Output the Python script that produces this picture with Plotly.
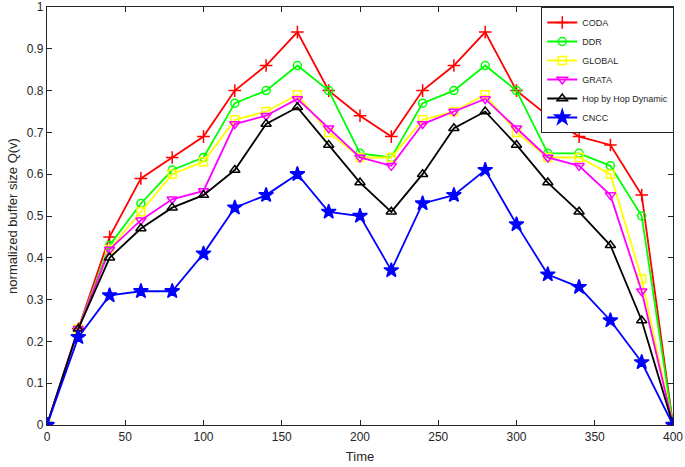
import plotly.graph_objects as go

time = [0, 20, 40, 60, 80, 100, 120, 140, 160, 180, 200, 220, 240, 260, 280, 300, 320, 340, 360, 380, 400]

coda   = [0, 0.23, 0.45, 0.59, 0.64, 0.69, 0.80, 0.86, 0.94, 0.80, 0.74, 0.69, 0.80, 0.86, 0.94, 0.80, 0.74, 0.69, 0.67, 0.55, 0]
ddr    = [0, 0.23, 0.43, 0.53, 0.61, 0.64, 0.77, 0.80, 0.86, 0.80, 0.65, 0.64, 0.77, 0.80, 0.86, 0.80, 0.65, 0.65, 0.62, 0.50, 0]
global_ = [0, 0.23, 0.42, 0.51, 0.60, 0.63, 0.73, 0.75, 0.79, 0.70, 0.64, 0.64, 0.73, 0.75, 0.79, 0.70, 0.64, 0.64, 0.60, 0.35, 0]
grata  = [0, 0.23, 0.42, 0.49, 0.54, 0.56, 0.72, 0.74, 0.78, 0.71, 0.64, 0.62, 0.72, 0.75, 0.78, 0.71, 0.64, 0.62, 0.55, 0.32, 0]
hop    = [0, 0.23, 0.40, 0.47, 0.52, 0.55, 0.61, 0.72, 0.76, 0.67, 0.58, 0.51, 0.60, 0.71, 0.75, 0.67, 0.58, 0.51, 0.43, 0.25, 0]
cncc   = [0, 0.21, 0.31, 0.32, 0.32, 0.41, 0.52, 0.55, 0.60, 0.51, 0.50, 0.37, 0.53, 0.55, 0.61, 0.48, 0.36, 0.33, 0.25, 0.15, 0]

x_ticks = [0, 50, 100, 150, 200, 250, 300, 350, 400]
y_ticks = [0, 0.1, 0.2, 0.3, 0.4, 0.5, 0.6, 0.7, 0.8, 0.9, 1]
y_tick_labels = ["0", "0.1", "0.2", "0.3", "0.4", "0.5", "0.6", "0.7", "0.8", "0.9", "1"]

series = [
    ("CODA", coda, "#FF0000", "cross-thin-open", 9),
    ("DDR", ddr, "#00FF00", "circle-open", 8),
    ("GLOBAL", global_, "#FFFF00", "square-open", 8),
    ("GRATA", grata, "#FF00FF", "triangle-down-open", 9),
    ("Hop by Hop Dynamic", hop, "#000000", "triangle-up-open", 9),
    ("CNCC", cncc, "#0000FF", "star", 11),
]

fig = go.Figure()
for name, vals, color, sym, size in series:
    fig.add_trace(go.Scatter(
        x=time, y=vals, name=name, mode="lines+markers",
        line=dict(color=color, width=1.8),
        marker=dict(symbol=sym, size=size, color=color,
                    line=dict(color=color, width=1.5)),
    ))

axis_common = dict(
    showline=True, linecolor="#262626", linewidth=1.2, mirror="ticks",
    ticks="inside", ticklen=5, tickcolor="#262626",
    showgrid=False, zeroline=False, automargin=False,
    ticklabeloverflow="allow",
    tickfont=dict(family="Liberation Sans, Arial", size=12, color="#262626"),
)

fig.update_layout(
    width=685, height=467,
    margin=dict(l=47, r=12, t=7, b=42),
    paper_bgcolor="white", plot_bgcolor="white",
    font=dict(family="Liberation Sans, Arial", color="#262626"),
    xaxis=dict(range=[0, 400], tickmode="array", tickvals=x_ticks,
               title=dict(text="Time", font=dict(size=13), standoff=9), **axis_common),
    yaxis=dict(range=[0, 1], tickmode="array", tickvals=y_ticks, ticktext=y_tick_labels,
               title=dict(text="normalized buffer size Q(v)", font=dict(size=13), standoff=6), **axis_common),
    legend=dict(
        x=1.002, y=1, xanchor="right", yanchor="top",
        bgcolor="white", bordercolor="#262626", borderwidth=1,
        font=dict(family="Liberation Sans, Arial", size=9, color="#262626"),
        tracegroupgap=0, itemwidth=30,
    ),
    showlegend=True,
)

fig.write_html("out.html", config={"displayModeBar": False},
               post_script="document.body.style.margin='0';document.body.style.overflow='hidden';")
